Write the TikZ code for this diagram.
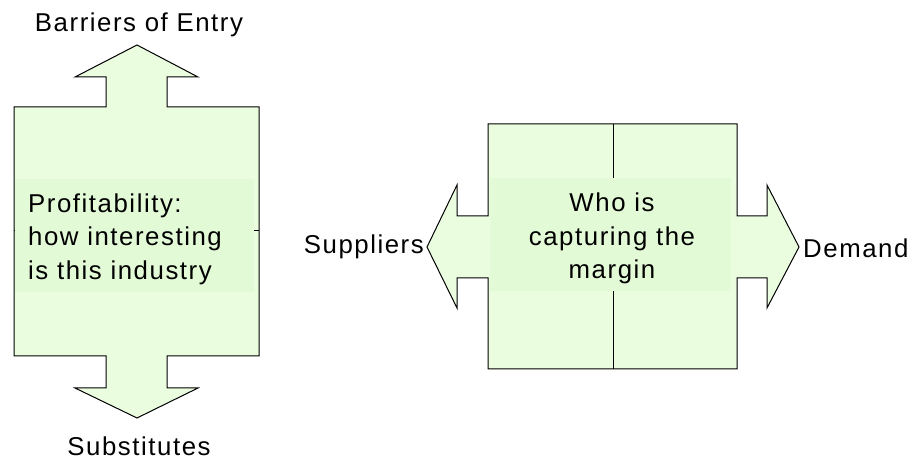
\documentclass[tikz,border=0pt]{standalone}
\usepackage{fontspec}
\setmainfont{Liberation Sans}[LetterSpace=6]
\begin{document}
\definecolor{boxfill}{RGB}{234,253,223}
\definecolor{textfill}{RGB}{227,250,214}
\begin{tikzpicture}[x=1pt,y=-1pt,
  outline/.style={draw=black,line width=1pt,fill=boxfill,line join=miter},
  divider/.style={draw=black,line width=1pt},
  textpatch/.style={fill=textfill},
  lbl/.style={inner sep=0pt,font=\fontsize{25.8}{33.3}\selectfont},
  every node/.style={lbl}]
\useasboundingbox (0,0) rectangle (914,462);

% industry block with entry and substitute arrows
\path[outline] (14,107) -- (106,107) -- (106,77) -- (75,77) -- (137,45) -- (198,77)
  -- (167,77) -- (167,107) -- (259,107) -- (259,356) -- (167,356) -- (167,388)
  -- (198,388) -- (137,418) -- (75,388) -- (106,388) -- (106,356) -- (14,356) -- cycle;
\draw[divider] (14,231) -- (259,231);
\fill[textpatch] (15,179) rectangle (254,292);

% value chain block with supplier and demand arrows
\path[outline] (488,124) -- (737,124) -- (737,216) -- (767,216) -- (767,185)
  -- (799,247) -- (767,308) -- (767,278) -- (737,278) -- (737,369) -- (488,369)
  -- (488,278) -- (457,278) -- (457,308) -- (427,247) -- (457,185) -- (457,216)
  -- (488,216) -- cycle;
\draw[divider] (613,124) -- (613,369);
\fill[textpatch] (490,178) rectangle (731,291);

% labels (multi-line nodes sit on the baseline of their last line)
\node[anchor=base] (entry) at (139,31.7) {Barriers of Entry};
\node[anchor=base] (subst) at (139,456) {Substitutes};
\node[anchor=base west,align=left] (profit) at (28,279.3)
  {Profitability:\\how interesting\\is this industry};
\node[anchor=base,align=center] (margin) at (612,278.5)
  {Who is\\capturing the\\margin};
\node[anchor=base east] (suppliers) at (424,254) {Suppliers};
\node[anchor=base west] (demand) at (803,258) {Demand};
\end{tikzpicture}
\end{document}
